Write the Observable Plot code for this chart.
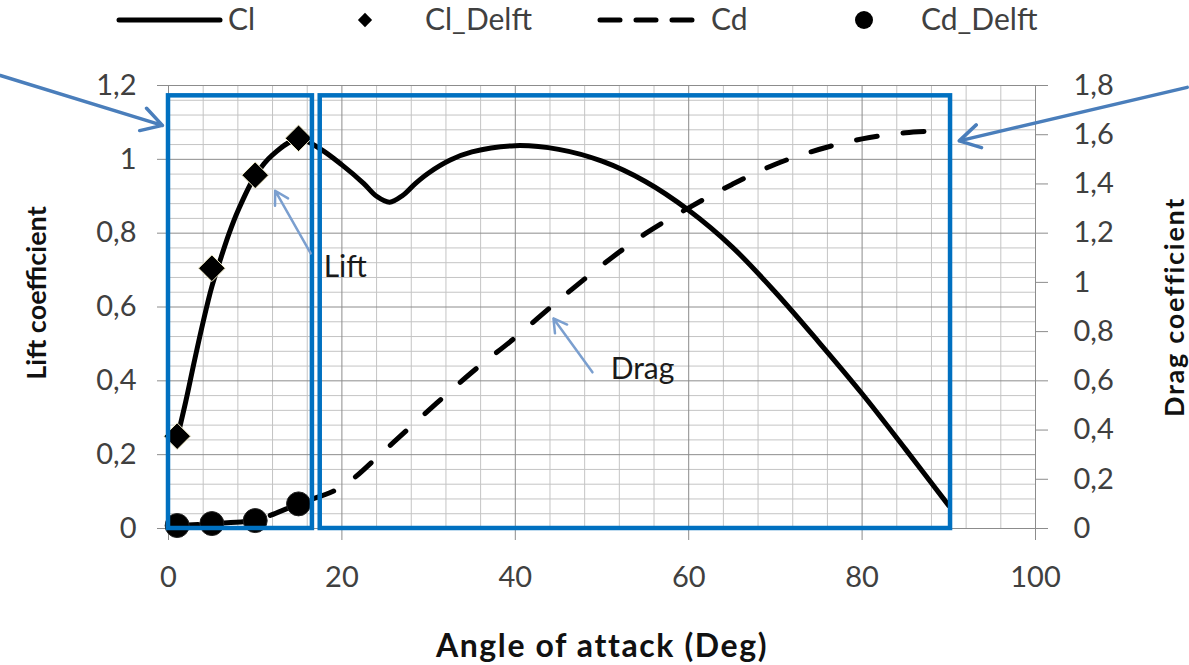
<!DOCTYPE html>
<html><head><meta charset="utf-8">
<script src="https://cdn.jsdelivr.net/npm/d3@7"></script>
<script src="https://cdn.jsdelivr.net/npm/@observablehq/plot@0.6"></script>
<style>
body{margin:0;background:#fff;font-family:Lato,sans-serif}
#legend{display:block}
</style>
</head><body>
<svg id="legend" width="1189" height="40"></svg>
<div id="chart"></div>
<script>
// ---- data ----
const clAngle = [1, 2, 3, 4, 5, 6, 7, 8, 10, 12, 15, 17.5, 20, 22.5, 24, 25.5, 27, 28.5, 30, 32.5, 35, 40, 45, 50, 55, 60, 65, 70, 75, 80, 85, 90];
const clValue = [0.245, 0.345, 0.455, 0.56, 0.655, 0.73, 0.80, 0.86, 0.955, 1.012, 1.055, 1.028, 0.985, 0.935, 0.9, 0.884, 0.902, 0.935, 0.963, 0.998, 1.02, 1.037, 1.027, 0.995, 0.94, 0.862, 0.763, 0.64, 0.505, 0.365, 0.215, 0.062];
const cdAngle = [1, 5, 10, 15, 20, 25, 30, 35, 40, 45, 50, 55, 60, 65, 70, 75, 80, 85, 90];
const cdValue = [0.012, 0.02, 0.035, 0.1, 0.17, 0.32, 0.48, 0.635, 0.776, 0.927, 1.07, 1.198, 1.303, 1.398, 1.48, 1.54, 1.583, 1.608, 1.617];
const delftAngle = [1, 5, 10, 15];
const clDelft = [0.25, 0.705, 0.957, 1.057];
const cdDelft = [0.012, 0.02, 0.032, 0.1];

const xTicks = [0, 20, 40, 60, 80, 100];
const liftTicks = [0, 0.2, 0.4, 0.6, 0.8, 1, 1.2];
const dragTicks = [0, 0.2, 0.4, 0.6, 0.8, 1, 1.2, 1.4, 1.6, 1.8];
const seriesNames = ["Cl", "Cl_Delft", "Cd", "Cd_Delft"];
const xTitle = "Angle of attack (Deg)";
const liftTitle = "Lift coefficient";
const dragTitle = "Drag coefficient";

// highlight boxes (data units)
const boxX1 = [0, 17.5];
const boxX2 = [16.6, 90.2];
const boxTop = [1.172, 1.172];
// big pointer arrows
const bigArrowX1 = [-19.4, 117.5];
const bigArrowY1 = [1.227, 1.195];
const bigArrowX2 = [-0.7, 91.2];
const bigArrowY2 = [1.092, 1.05];
// notes
const noteText = ["Lift", "Drag"];
const noteX = [17.9, 51.0];
const noteY = [0.707, 0.431];
const noteArrowX1 = [16.4, 48.9];
const noteArrowY1 = [0.745, 0.423];
const noteArrowX2 = [12.3, 44.4];
const noteArrowY2 = [0.915, 0.569];

// ---- build ----
const k = 1.2 / 1.8; // drag -> lift axis
const fmt = v => String(Math.round(v * 10) / 10).replace(".", ",");
const clRows = clAngle.map((a, i) => ({a, v: clValue[i]}));
const cdRows = cdAngle.map((a, i) => ({a, v: cdValue[i] * k}));
const clDRows = delftAngle.map((a, i) => ({a, v: clDelft[i]}));
const cdDRows = delftAngle.map((a, i) => ({a, v: cdDelft[i] * k}));
const boxes = boxX1.map((x1, i) => ({x1, x2: boxX2[i], y1: 0, y2: boxTop[i]}));
const bigArrows = bigArrowX1.map((x1, i) => ({x1, y1: bigArrowY1[i], x2: bigArrowX2[i], y2: bigArrowY2[i]}));
const notes = noteText.map((t, i) => ({t, x: noteX[i], y: noteY[i], x1: noteArrowX1[i], y1: noteArrowY1[i], x2: noteArrowX2[i], y2: noteArrowY2[i]}));

const minorX = d3.range(0, 100.1, 4).filter(v => v % 20 !== 0);
const minorY = d3.range(0, 1.2001, 0.04).map(v => +v.toFixed(2)).filter(v => Math.abs(v * 5 - Math.round(v * 5)) > 1e-6);

const chart = Plot.plot({
  width: 1189, height: 625,
  marginTop: 45, marginBottom: 137, marginLeft: 168, marginRight: 154,
  x: {domain: [0, 100]},
  y: {domain: [0, 1.2]},
  style: {fontFamily: "Lato, sans-serif", background: "white", overflow: "visible"},
  marks: [
    Plot.gridX(minorX, {stroke: "#c4c4c4", strokeOpacity: 1}),
    Plot.gridY(minorY, {stroke: "#c4c4c4", strokeOpacity: 1}),
    Plot.gridX(xTicks, {stroke: "#8c8c8c", strokeOpacity: 1}),
    Plot.gridY(liftTicks, {stroke: "#8c8c8c", strokeOpacity: 1}),
    Plot.axisX(xTicks, {anchor: "bottom", tickSize: 12, tickPadding: 26, tickFormat: fmt, label: null, stroke: "#8c8c8c", fill: "#404040", fontSize: 29}),
    Plot.axisY(liftTicks, {anchor: "left", tickSize: 11, tickPadding: 21, tickFormat: fmt, label: null, stroke: "#8c8c8c", fill: "#404040", fontSize: 29}),
    Plot.axisY(dragTicks.map(v => v * k), {anchor: "right", tickSize: 12, tickPadding: 26, tickFormat: d => fmt(d / k), label: null, stroke: "#8c8c8c", fill: "#404040", fontSize: 29}),
    Plot.line(cdRows, {x: "a", y: "v", curve: "catmull-rom", stroke: "black", strokeWidth: 5, strokeDasharray: "21,26", strokeLinecap: "round"}),
    Plot.line(clRows, {x: "a", y: "v", curve: "catmull-rom", stroke: "black", strokeWidth: 5}),
    Plot.dot(cdDRows, {x: "a", y: "v", r: 12, fill: "black", stroke: "#222", strokeWidth: 1}),
    Plot.dot(clDRows, {x: "a", y: "v", r: 12, symbol: "diamond2", fill: "black", stroke: "#f2ecc8", strokeWidth: 1}),
    Plot.rect(boxes, {x1: "x1", x2: "x2", y1: "y1", y2: "y2", fill: "none", stroke: "#0070C0", strokeWidth: 4.5}),
    Plot.arrow(bigArrows, {x1: "x1", y1: "y1", x2: "x2", y2: "y2", stroke: "#4a7ebb", strokeWidth: 3.5, headLength: 10, headAngle: 60}),
    Plot.arrow(notes, {x1: "x1", y1: "y1", x2: "x2", y2: "y2", stroke: "#7b9fcf", strokeWidth: 2.5, headLength: 9, headAngle: 60}),
    Plot.text(notes, {x: "x", y: "y", text: "t", textAnchor: "start", fontSize: 30, fill: "#1a1a1a"}),
    Plot.text([xTitle], {frameAnchor: "bottom", dy: 118, text: d => d, textAnchor: "middle", lineAnchor: "middle", fontSize: 32, fontWeight: "bold", fill: "#111"}),
    Plot.text([liftTitle], {frameAnchor: "left", dx: -131, dy: -14, rotate: -90, text: d => d, textAnchor: "middle", lineAnchor: "middle", fontSize: 27, fontWeight: "bold", fill: "#111"}),
    Plot.text([dragTitle], {frameAnchor: "right", dx: 140, dy: 0, rotate: -90, text: d => d, textAnchor: "middle", lineAnchor: "middle", fontSize: 27, fontWeight: "bold", fill: "#111"})
  ]
});
// letter spacing for the wide-set titles
d3.select(chart).selectAll("text").each(function () {
  const t = this.textContent;
  if (t === xTitle) d3.select(this).style("letter-spacing", "1.6px");
  if (t === dragTitle) d3.select(this).style("letter-spacing", "1.7px");
});
document.getElementById("chart").appendChild(chart);

// ---- legend ----
const lg = d3.select("#legend");
const lx = {line: [119, 220], diamond: 365, dash: [600, 698], circle: 864};
const textX = [228, 425, 711, 921];
const ly = 20;
lg.append("line").attr("x1", lx.line[0]).attr("x2", lx.line[1]).attr("y1", ly).attr("y2", ly)
  .attr("stroke", "black").attr("stroke-width", 5).attr("stroke-linecap", "round");
lg.append("path").attr("d", d3.symbol(d3.symbolDiamond2, 130)()).attr("transform", `translate(${lx.diamond},${ly})`).attr("fill", "black");
lg.append("line").attr("x1", lx.dash[0]).attr("x2", lx.dash[1]).attr("y1", ly).attr("y2", ly)
  .attr("stroke", "black").attr("stroke-width", 5).attr("stroke-dasharray", "20,16").attr("stroke-linecap", "round");
lg.append("circle").attr("cx", lx.circle).attr("cy", ly).attr("r", 9).attr("fill", "black");
seriesNames.forEach((s, i) => {
  lg.append("text").attr("x", textX[i]).attr("y", 30).attr("font-size", 30).attr("fill", "#404040")
    .attr("font-family", "Lato, sans-serif").text(s);
});
</script>
</body></html>
